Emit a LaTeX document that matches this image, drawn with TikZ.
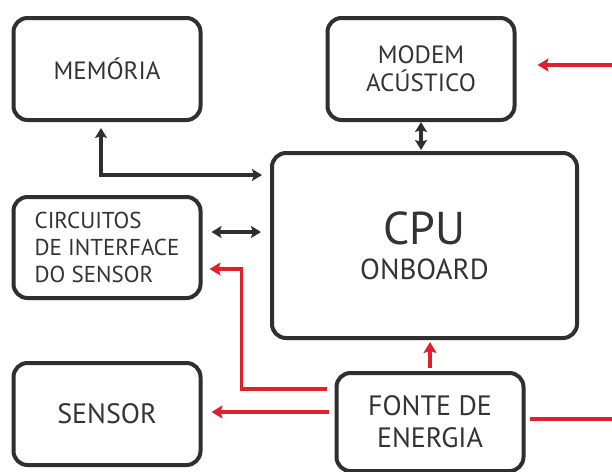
\documentclass[tikz,border=0pt]{standalone}
\usepackage{fontspec}
\setmainfont{PT Sans}
\usepackage{tikz}
\usetikzlibrary{positioning,arrows.meta}
\definecolor{boxstroke}{HTML}{2F2F2F}
\definecolor{txtgrey}{HTML}{333333}
\definecolor{pwrred}{HTML}{E0202A}
\tikzset{
  blk/.style   = {draw=boxstroke, line width=2pt, rounded corners=7pt,
                  align=center, text=txtgrey, inner sep=2pt, outer sep=0pt,
                  minimum width=93.5pt, minimum height=51pt},
  datarr/.style = {{Stealth[length=5pt,width=6pt,inset=1pt]}-{Stealth[length=5pt,width=6pt,inset=1pt]},
                  line width=1.6pt, draw=boxstroke},
  pwrarr/.style = {-{Stealth[length=5.5pt,width=6.5pt,inset=1pt]},
                  line width=1.6pt, draw=pwrred},
  pwrline/.style = {line width=1.6pt, draw=pwrred},
}

\begin{document}
\begin{tikzpicture}[x=0.5pt,y=-0.5pt]
  \useasboundingbox (0,0) rectangle (612,472);
  % ---------------- blocks ----------------
  \node[blk, font=\fontsize{12.5}{14}\selectfont] (mem) at (107,69) {MEMÓRIA};
  \node[blk, right=63.5pt of mem, font=\fontsize{12.5}{14}\selectfont] (modem) {MODEM\\ACÚSTICO};
  \node[blk, below=38.5pt of mem, minimum height=50.5pt, align=left,
        font=\fontsize{11.5}{13.3}\selectfont] (circ) {CIRCUITOS\\DE INTERFACE\\DO SENSOR};
  \node[blk, below=32.5pt of circ, font=\fontsize{14}{16}\selectfont] (sensor) {SENSOR};
  \node[blk, minimum width=152.5pt, minimum height=92.5pt,
        font=\fontsize{14.5}{17.5}\selectfont] (cpu) at (424.5,245.5)
    {{\fontsize{23}{23}\selectfont CPU}\\ONBOARD};
  \node[blk, below=17.5pt of cpu, xshift=2.75pt, minimum height=49pt,
        font=\fontsize{14}{16}\selectfont] (fonte) {FONTE DE\\ENERGIA};

  % ---------------- data links ----------------
  \draw[datarr] ([xshift=-3pt,yshift=-4pt]mem.south) |- ([xshift=-5pt,yshift=-11pt]cpu.north west);
  \draw[datarr] ([yshift=-1pt]modem.south) -- ([yshift=1.5pt]modem.south |- cpu.north);
  \draw[datarr] ([xshift=5.5pt,yshift=7.75pt]circ.east) -- ([xshift=-5.5pt,yshift=7.75pt]circ.east -| cpu.west);

  % ---------------- power links ----------------
  \coordinate (ext) at (612,65);
  \coordinate (pwr) at (612,419);
  \draw[pwrarr] ([yshift=2.5pt]fonte.north) -- ([yshift=-2pt]fonte.north |- cpu.south);
  \draw[pwrarr] ([xshift=-5pt,yshift=16.5pt]fonte.west) -| ([xshift=20.5pt,yshift=-10.75pt]circ.east)
        -- ([xshift=4.5pt,yshift=-10.75pt]circ.east);
  \draw[pwrarr] ([xshift=-4pt,yshift=5pt]fonte.west) -- ([xshift=5.5pt,yshift=5pt]fonte.west -| sensor.east);
  \draw[pwrline] ([xshift=3pt,yshift=1.5pt]fonte.east) -- ([yshift=1.5pt]fonte.east -| pwr);
  \draw[pwrarr] (ext) -- ([xshift=11.5pt]modem.east |- ext);
\end{tikzpicture}
\end{document}
